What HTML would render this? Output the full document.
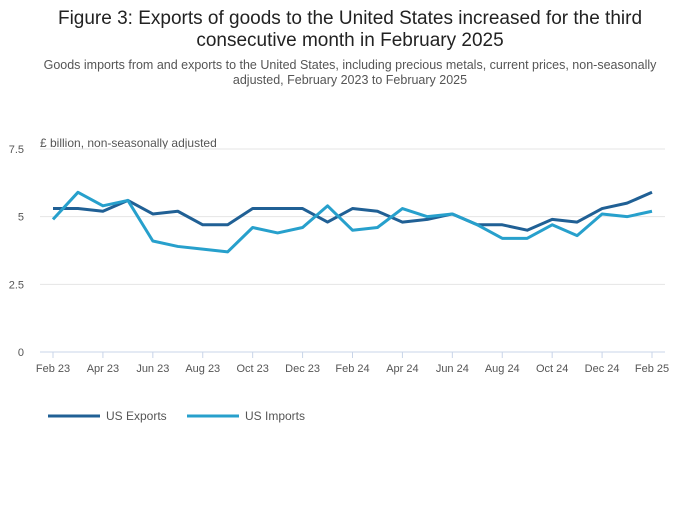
<!DOCTYPE html>
<html><head><meta charset="utf-8"><style>
body{margin:0;background:#fff;font-family:"Liberation Sans",sans-serif;}
#wrap{position:relative;width:700px;height:502px;}
</style></head><body>
<div id="wrap">
<svg id="chart" width="700" height="502" xmlns="http://www.w3.org/2000/svg">
<text x="350" y="24" text-anchor="middle" font-size="19" fill="#222">Figure 3: Exports of goods to the United States increased for the third</text>
<text x="350" y="46" text-anchor="middle" font-size="19" fill="#222">consecutive month in February 2025</text>
<text x="350" y="69" text-anchor="middle" font-size="12.5" fill="#555">Goods imports from and exports to the United States, including precious metals, current prices, non-seasonally</text>
<text x="350" y="84" text-anchor="middle" font-size="12.5" fill="#555">adjusted, February 2023 to February 2025</text>
<text x="40" y="147" font-size="12" fill="#555">£ billion, non-seasonally adjusted</text>
<g id="grid"></g><g id="xaxis"></g><g id="series"></g>
<g>
<line x1="48" y1="416" x2="100" y2="416" stroke="#206095" stroke-width="3"/>
<text x="106" y="420" font-size="12" fill="#555">US Exports</text>
<line x1="187" y1="416" x2="239" y2="416" stroke="#27a0cc" stroke-width="3"/>
<text x="245" y="420" font-size="12" fill="#555">US Imports</text>
</g>
</svg></div>
<script>
const categories=["Feb 23","Mar 23","Apr 23","May 23","Jun 23","Jul 23","Aug 23","Sep 23","Oct 23","Nov 23","Dec 23","Jan 24","Feb 24","Mar 24","Apr 24","May 24","Jun 24","Jul 24","Aug 24","Sep 24","Oct 24","Nov 24","Dec 24","Jan 25","Feb 25"];
const exportsValues=[5.3,5.3,5.2,5.6,5.1,5.2,4.7,4.7,5.3,5.3,5.3,4.8,5.3,5.2,4.8,4.9,5.1,4.7,4.7,4.5,4.9,4.8,5.3,5.5,5.9];
const importsValues=[4.9,5.9,5.4,5.6,4.1,3.9,3.8,3.7,4.6,4.4,4.6,5.4,4.5,4.6,5.3,5.0,5.1,4.7,4.2,4.2,4.7,4.3,5.1,5.0,5.2];
const yTicks=[0,2.5,5,7.5];
const yTickLabels=["0","2.5","5","7.5"];
const NS="http://www.w3.org/2000/svg";
const x0=53,x1=652,yBase=352,yTop=149,yMax=7.5;
const xs=i=>x0+(x1-x0)*i/(categories.length-1);
const ys=v=>yBase-(yBase-yTop)*v/yMax;
function mk(t,a,p){const e=document.createElementNS(NS,t);for(const k in a)e.setAttribute(k,a[k]);p.appendChild(e);return e;}
const grid=document.getElementById('grid');
yTicks.forEach((v,i)=>{
 const l=mk('line',{x1:40,x2:665,y1:ys(v),y2:ys(v),stroke:i===0?'#c8d4e8':'#e4e4e4','stroke-width':1},grid);
 
 
 const t=mk('text',{x:24,y:ys(v)+4,'font-size':11,fill:'#555','text-anchor':'end'},grid);
 t.textContent=yTickLabels[i];
 
 
});
const xa=document.getElementById('xaxis');
categories.forEach((c,i)=>{
 if(i%2)return;
 const l=mk('line',{x1:xs(i),x2:xs(i),y1:yBase,y2:yBase+6,stroke:'#c8d4e8'},xa);
 
 
 const t=mk('text',{x:xs(i),y:372,'font-size':11,fill:'#555','text-anchor':'middle'},xa);
 t.textContent=c;
 
 
});
const sg=document.getElementById('series');
[[exportsValues,'#206095','exports-line'],[importsValues,'#27a0cc','imports-line']].forEach(([vals,col,name])=>{
 const p=mk('polyline',{points:vals.map((v,i)=>xs(i)+','+ys(v)).join(' '),fill:'none',stroke:col,'stroke-width':3,'stroke-linejoin':'round'},sg);
 
 
});
</script>
</body></html>
